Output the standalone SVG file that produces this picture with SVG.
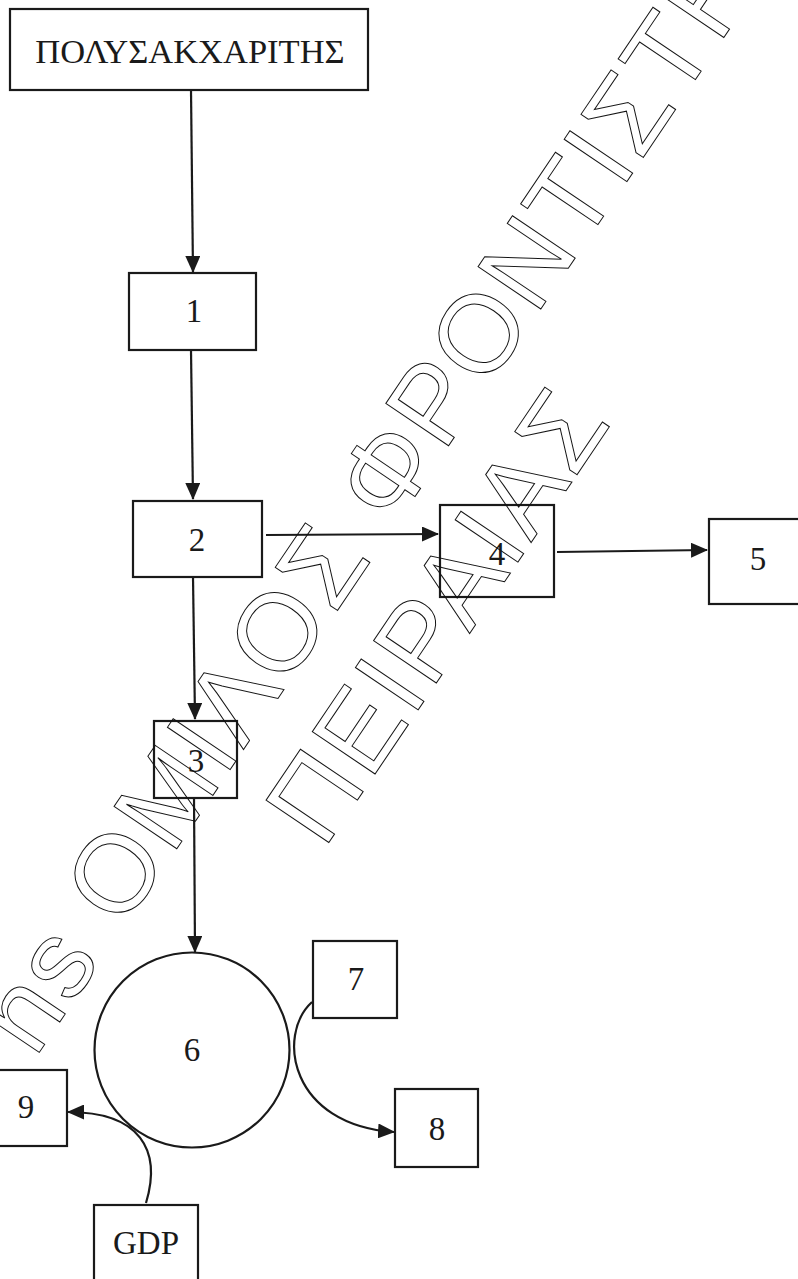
<svg xmlns="http://www.w3.org/2000/svg" width="798" height="1279" viewBox="0 0 798 1279">
<style>
.box{fill:#fff;stroke:#1a1a1a;stroke-width:2.2}
.lbl{font-family:"Liberation Serif","Times New Roman",serif;font-size:33px;fill:#1a1a1a;text-anchor:middle}
.ttl{font-size:34.5px}
.con{fill:none;stroke:#1a1a1a;stroke-width:2.2}
.wm{font-family:"Liberation Sans",Arial,sans-serif;font-size:110px;fill:none;stroke:#111;stroke-width:1;letter-spacing:3px}
</style>
<defs>
<marker id="ah" markerWidth="17" markerHeight="15" refX="16" refY="7.5" orient="auto" markerUnits="userSpaceOnUse">
<path d="M0,0 L17,7.5 L0,15 z" fill="#1a1a1a"/>
</marker>
</defs>
<rect width="798" height="1279" fill="#fff"/>
<g id="nodes">
<g id="n-poly"><rect class="box" x="10" y="9" width="358" height="81"/><text class="lbl ttl" x="190" y="63">ΠΟΛΥΣΑΚΧΑΡΙΤΗΣ</text></g>
<g id="n1"><rect class="box" x="129" y="273" width="127" height="77"/><text class="lbl" x="194" y="322">1</text></g>
<g id="n2"><rect class="box" x="133" y="501" width="129" height="76"/><text class="lbl" x="197" y="551">2</text></g>
<g id="n3"><rect class="box" x="154" y="721" width="83" height="77"/><text class="lbl" x="196" y="772">3</text></g>
<g id="n4"><rect class="box" x="440" y="505" width="114" height="92"/><text class="lbl" x="497" y="565">4</text></g>
<g id="n5"><rect class="box" x="709" y="519" width="100" height="85"/><text class="lbl" x="758" y="570">5</text></g>
<g id="n6"><circle class="box" cx="192" cy="1050" r="97.5"/><text class="lbl" x="192" y="1061">6</text></g>
<g id="n7"><rect class="box" x="313" y="941" width="84" height="77"/><text class="lbl" x="356" y="990">7</text></g>
<g id="n8"><rect class="box" x="395" y="1089" width="83" height="78"/><text class="lbl" x="437" y="1140">8</text></g>
<g id="n9"><rect class="box" x="-20" y="1070" width="87" height="76"/><text class="lbl" x="26" y="1118">9</text></g>
<g id="n-gdp"><rect class="box" x="94" y="1205" width="104" height="90"/><text class="lbl" x="146" y="1254">GDP</text></g>
</g>
<g id="connectors">
<path class="con" d="M191,90 L193,272" marker-end="url(#ah)"/>
<path class="con" d="M191,350 L193,499" marker-end="url(#ah)"/>
<path class="con" d="M266,535 L438,534" marker-end="url(#ah)"/>
<path class="con" d="M557,552 L707,550" marker-end="url(#ah)"/>
<path class="con" d="M193,577 L195,719" marker-end="url(#ah)"/>
<path class="con" d="M194,798 L195,952" marker-end="url(#ah)"/>
<path class="con" d="M312,1002 C276,1035 290,1125 394,1132" marker-end="url(#ah)"/>
<path class="con" d="M146,1203 C162,1150 140,1112 68,1112" marker-end="url(#ah)"/>
</g>
<g id="watermark">
<text class="wm" transform="translate(122.1,929.8) rotate(-56)" x="-155.7" y="0">ns ΟΜΙΛΟΣ ΦΡΟΝΤΙΣΤΗ</text>
<text class="wm" transform="translate(323.8,849.9) rotate(-56)" x="0" y="0">ΠΕΙΡΑΙΑΣ</text>
</g>
</svg>
